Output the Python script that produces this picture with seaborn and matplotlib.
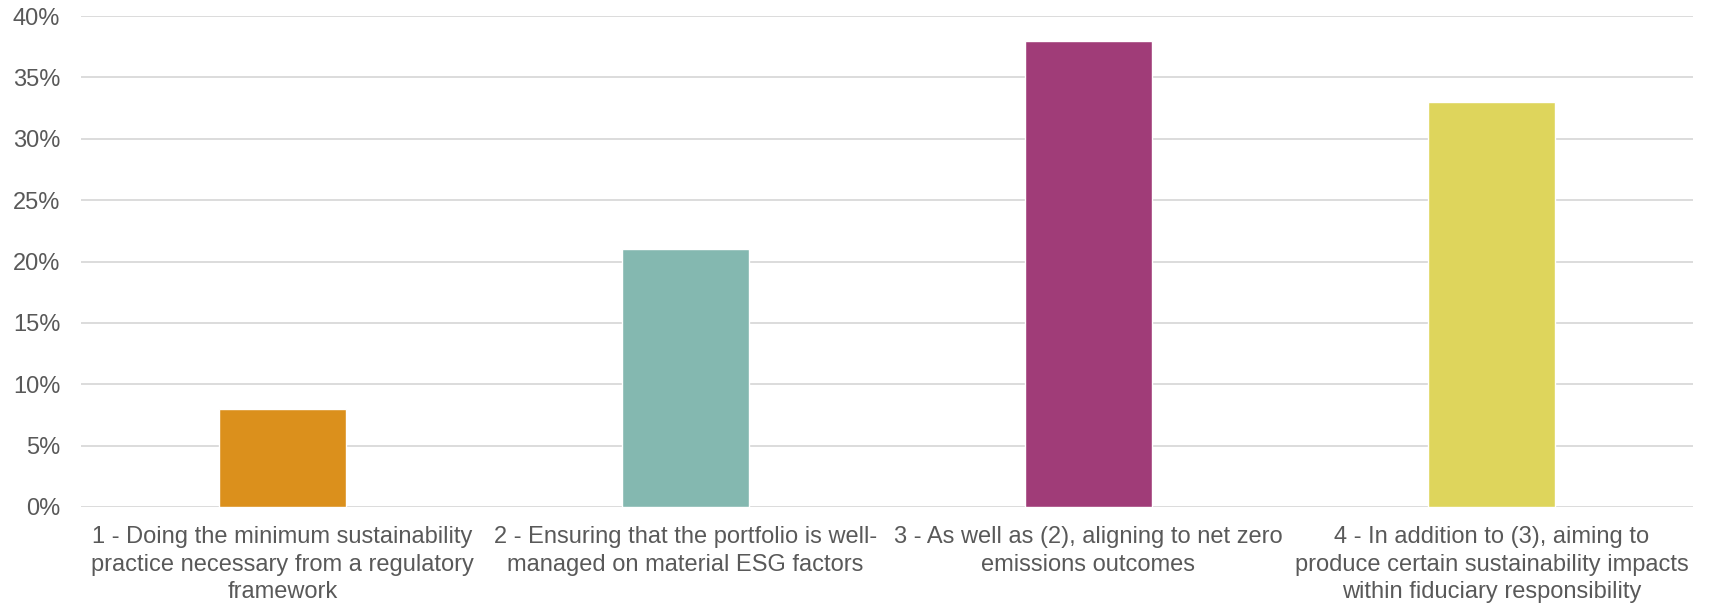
import matplotlib
matplotlib.use("Agg")
import matplotlib.pyplot as plt
import seaborn as sns
import pandas as pd
from matplotlib.ticker import PercentFormatter

categories = [
    "1 - Doing the minimum sustainability\npractice necessary from a regulatory\nframework",
    "2 - Ensuring that the portfolio is well-\nmanaged on material ESG factors",
    "3 - As well as (2), aligning to net zero\nemissions outcomes",
    "4 - In addition to (3), aiming to\nproduce certain sustainability impacts\nwithin fiduciary responsibility",
]
shares = [0.08, 0.21, 0.38, 0.33]
colors = ["#DB901C", "#84B8B0", "#A03C78", "#DED55C"]
y_ticks = [0, 0.05, 0.10, 0.15, 0.20, 0.25, 0.30, 0.35, 0.40]

df = pd.DataFrame({"category": categories, "share": shares})

sns.set_theme(style="white")
plt.rcParams["font.family"] = ["Liberation Sans", "DejaVu Sans"]

fig = plt.figure(figsize=(17.09, 6.04), dpi=100)
ax = fig.add_axes([0.0474, 0.1606, 0.9432, 0.8129])

sns.barplot(data=df, x="category", y="share", hue="category",
            palette=colors, width=0.315, legend=False, ax=ax,
            saturation=1, zorder=3)

ax.set_ylim(0, 0.40)
ax.set_xlim(-0.5, 3.5)
ax.set_yticks(y_ticks)
ax.yaxis.set_major_formatter(PercentFormatter(1.0, decimals=0))
ax.grid(axis="y", color="#d9d9d9", linewidth=1.3, zorder=0)
ax.set_axisbelow(True)
for s in ax.spines.values():
    s.set_visible(False)

ax.set_xlabel("")
ax.set_ylabel("")
ax.tick_params(axis="y", length=0, pad=15, labelsize=17, labelcolor="#595959")
ax.tick_params(axis="x", length=0, pad=14, labelsize=17, labelcolor="#595959")
for lbl in ax.get_xticklabels():
    lbl.set_linespacing(1.3)
    lbl.set_horizontalalignment("center")

fig.savefig("out.png", dpi=100, facecolor="white")
